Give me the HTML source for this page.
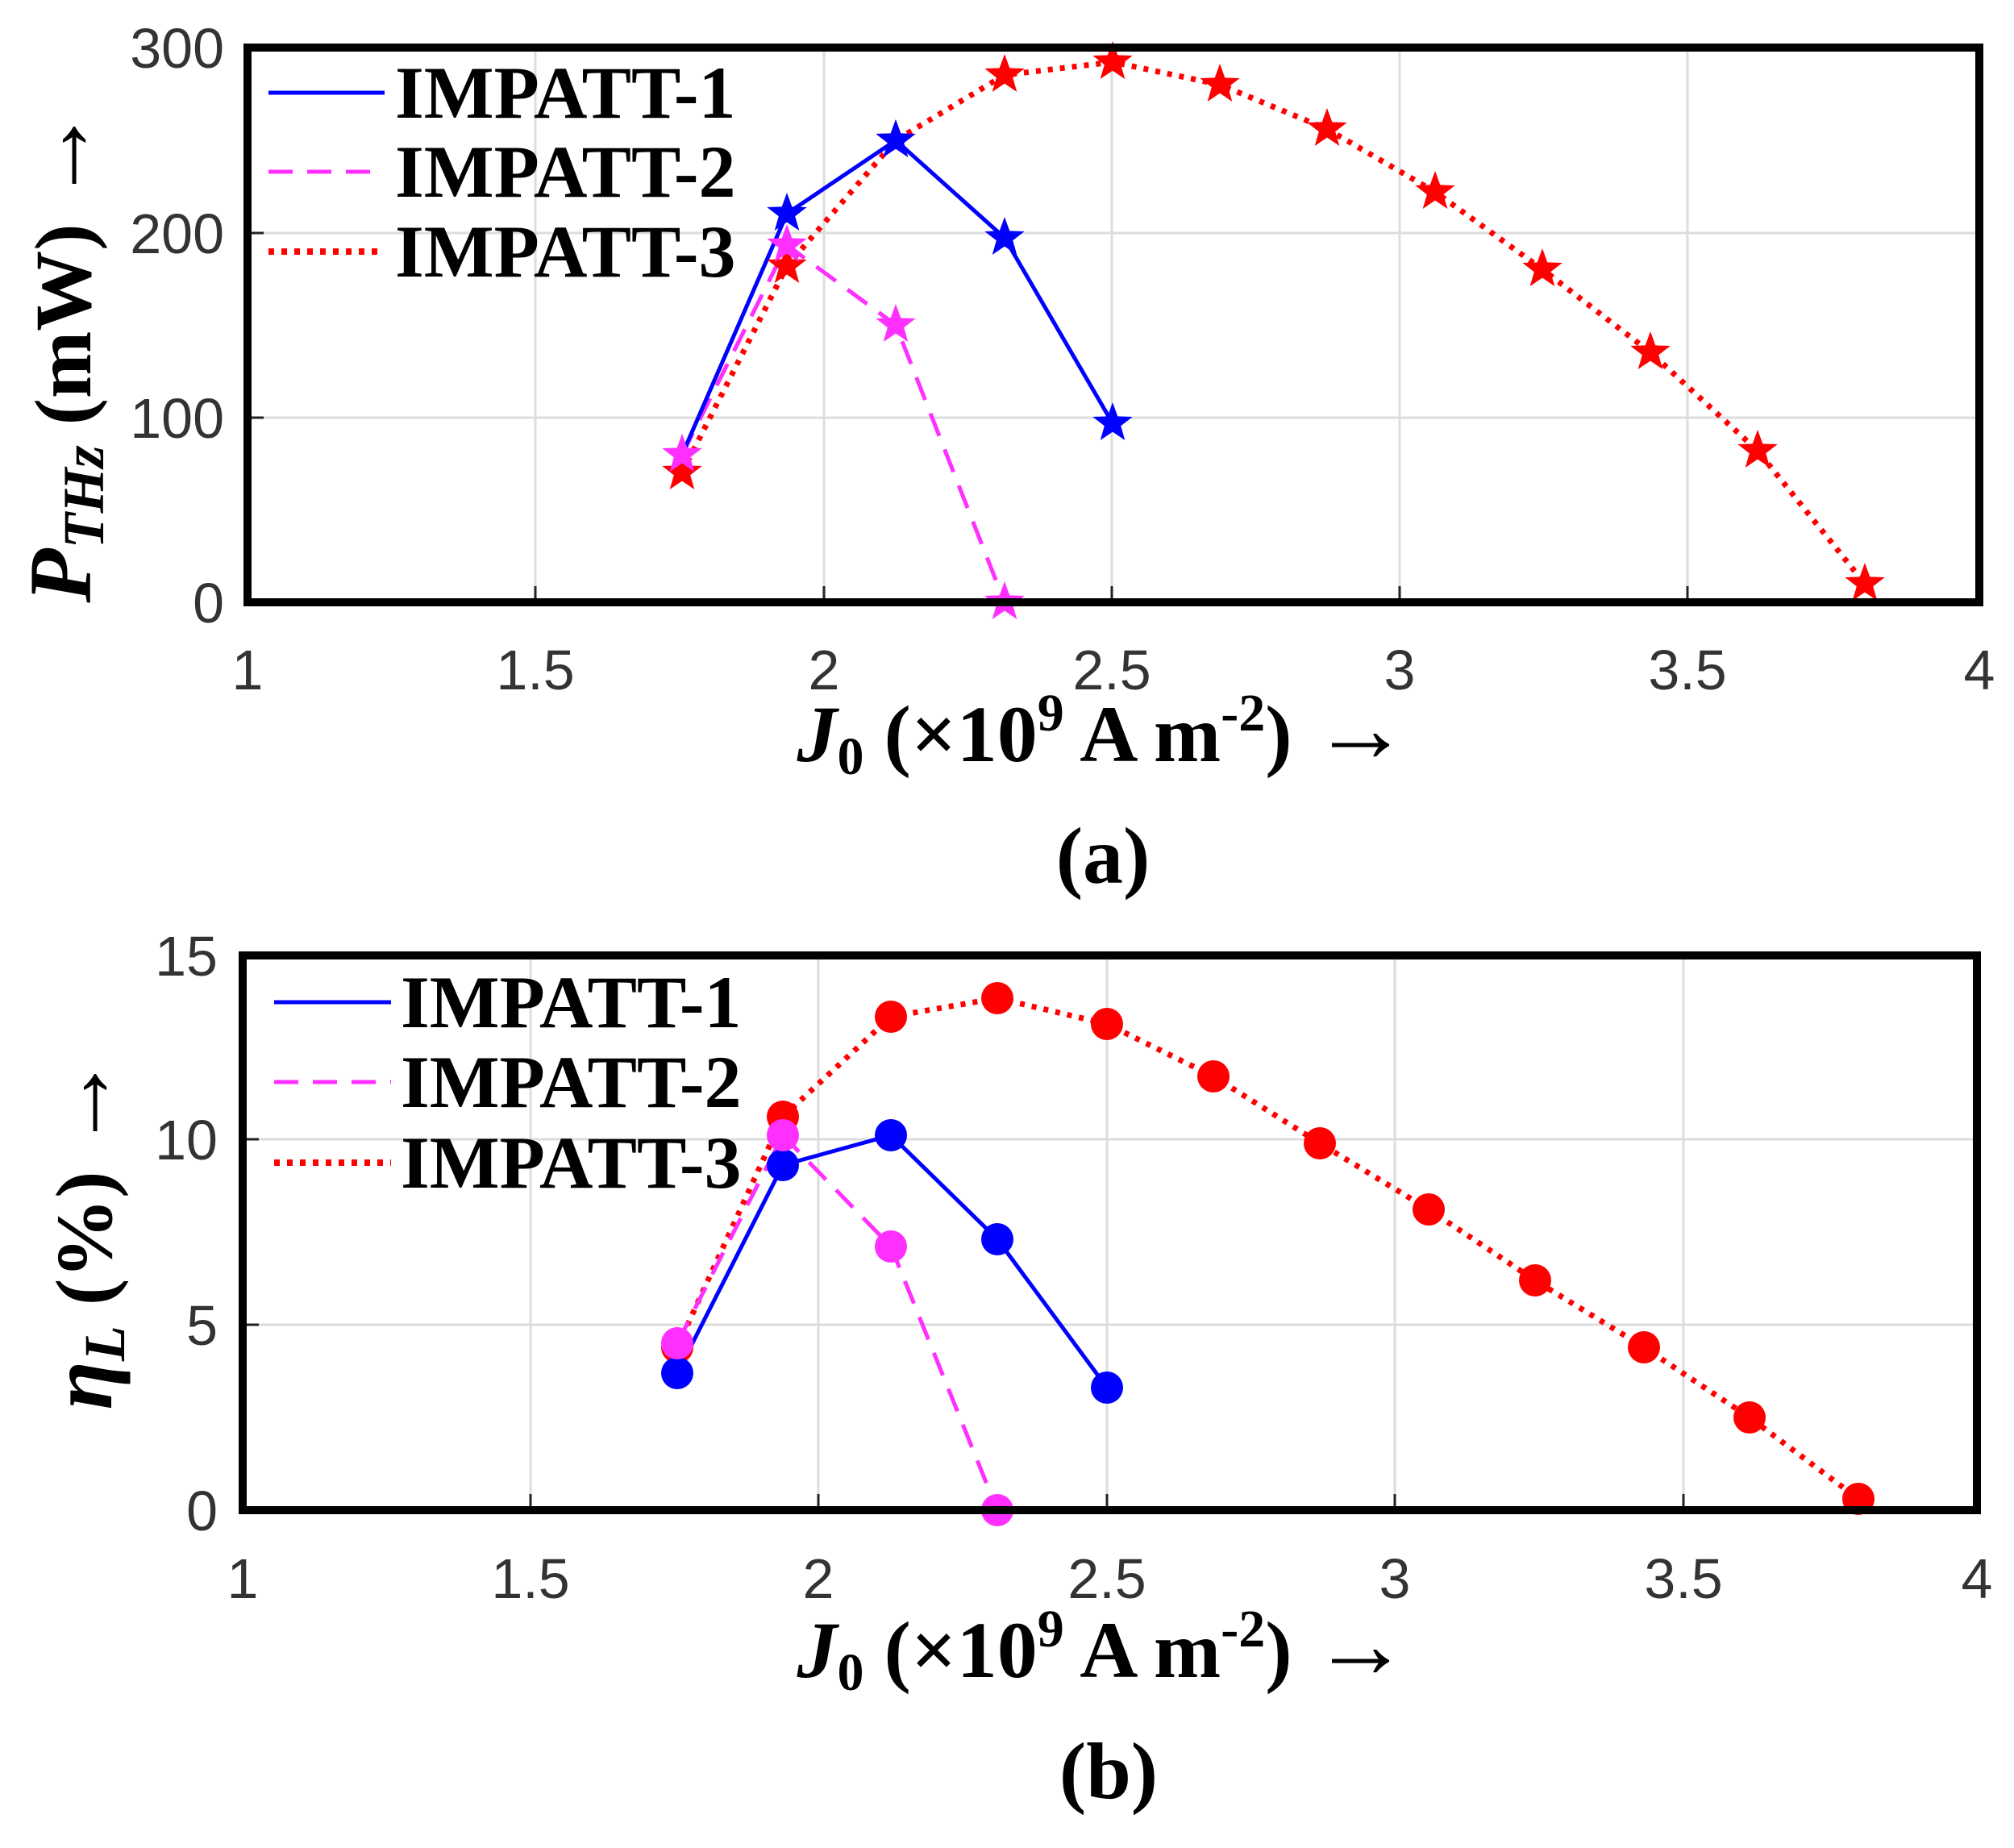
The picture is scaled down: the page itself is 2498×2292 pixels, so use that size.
<!DOCTYPE html>
<html><head><meta charset="utf-8"><style>
html,body{margin:0;padding:0;background:#fff;}
svg{display:block;}
.tk{font-family:"Liberation Sans",sans-serif;font-size:70px;fill:#333;}
.lg{font-family:"Liberation Serif",serif;font-weight:bold;font-size:92px;fill:#000;}
.al{font-family:"Liberation Serif",serif;font-weight:bold;font-size:100px;fill:#000;}
</style></head><body>
<svg width="2498" height="2292" viewBox="0 0 2498 2292" xmlns="http://www.w3.org/2000/svg">
<defs>
<path id="st" d="M0,-26 L6.3,-8.6 24.7,-8 10.2,3.3 15.3,21 0,10.6 -15.3,21 -10.2,3.3 -24.7,-8 -6.3,-8.6Z"/>
</defs>
<rect width="2498" height="2292" fill="#fff"/>

<!-- ===== TOP PLOT ===== -->
<g stroke="#ddd" stroke-width="3">
<line x1="664" y1="59" x2="664" y2="747"/><line x1="1022" y1="59" x2="1022" y2="747"/>
<line x1="1379" y1="59" x2="1379" y2="747"/><line x1="1736" y1="59" x2="1736" y2="747"/>
<line x1="2093" y1="59" x2="2093" y2="747"/>
<line x1="307" y1="289" x2="2455" y2="289"/><line x1="307" y1="518" x2="2455" y2="518"/>
</g>
<g stroke="#222" stroke-width="3">
<line x1="664" y1="747" x2="664" y2="727"/><line x1="1022" y1="747" x2="1022" y2="727"/>
<line x1="1379" y1="747" x2="1379" y2="727"/><line x1="1736" y1="747" x2="1736" y2="727"/>
<line x1="2093" y1="747" x2="2093" y2="727"/>
<line x1="307" y1="289" x2="327" y2="289"/><line x1="307" y1="518" x2="327" y2="518"/>
</g>
<polyline fill="none" stroke="#f00" stroke-width="7" stroke-dasharray="6,9" points="846,586 976,330 1111,174 1246,93 1380,77 1513,105 1646,160 1780,238 1913,334 2047,437 2180,559 2313,724"/>
<polyline fill="none" stroke="#ff2fff" stroke-width="5" stroke-dasharray="30,18" points="846,564 976,304 1111,403 1246,747"/>
<polyline fill="none" stroke="#00f" stroke-width="5" points="846,564 976,265 1111,174 1246,295 1380,525"/>
<g fill="#f00"><use href="#st" x="846" y="586"/><use href="#st" x="976" y="330"/><use href="#st" x="1111" y="174"/><use href="#st" x="1246" y="93"/><use href="#st" x="1380" y="77"/><use href="#st" x="1513" y="105"/><use href="#st" x="1646" y="160"/><use href="#st" x="1780" y="238"/><use href="#st" x="1913" y="334"/><use href="#st" x="2047" y="437"/><use href="#st" x="2180" y="559"/><use href="#st" x="2313" y="724"/></g>
<g fill="#00f"><use href="#st" x="976" y="265"/><use href="#st" x="1111" y="174"/><use href="#st" x="1246" y="295"/><use href="#st" x="1380" y="525"/></g>
<g fill="#ff2fff"><use href="#st" x="846" y="564"/><use href="#st" x="976" y="304"/><use href="#st" x="1111" y="403"/><use href="#st" x="1246" y="747"/></g>
<rect x="307" y="59" width="2148" height="688" fill="none" stroke="#000" stroke-width="10"/>
<line x1="333" y1="115" x2="477" y2="115" stroke="#00f" stroke-width="5"/>
<line x1="333" y1="213" x2="477" y2="213" stroke="#ff2fff" stroke-width="5" stroke-dasharray="30,18"/>
<line x1="333" y1="312" x2="477" y2="312" stroke="#f00" stroke-width="8" stroke-dasharray="7,9"/>
<text class="lg" x="490" y="146">IMPATT-1</text>
<text class="lg" x="490" y="244">IMPATT-2</text>
<text class="lg" x="490" y="343">IMPATT-3</text>
<g class="tk" text-anchor="end">
<text x="278" y="84">300</text><text x="278" y="314">200</text><text x="278" y="543">100</text><text x="278" y="772">0</text>
</g>
<g class="tk" text-anchor="middle">
<text x="307" y="855">1</text><text x="664" y="855">1.5</text><text x="1022" y="855">2</text><text x="1379" y="855">2.5</text><text x="1736" y="855">3</text><text x="2093" y="855">3.5</text><text x="2455" y="855">4</text>
</g>
<text class="al" x="1368" y="944" text-anchor="middle"><tspan font-style="italic">J</tspan><tspan font-size="66" dy="16">0</tspan><tspan dy="-16"> (×10</tspan><tspan font-size="66" dy="-38">9</tspan><tspan dy="38"> A m</tspan><tspan font-size="66" dy="-38">-2</tspan><tspan dy="38">) </tspan><tspan font-size="120">→</tspan></text>
<text class="al" x="1368" y="1095" text-anchor="middle" font-size="140">(a)</text>
<text class="al" transform="translate(112,440) rotate(-90)" text-anchor="middle"><tspan font-style="italic" font-size="110">P</tspan><tspan font-style="italic" font-size="72" dy="16">THz</tspan><tspan dy="-16"> (mW) </tspan><tspan font-size="120">→</tspan></text>

<!-- ===== BOTTOM PLOT ===== -->
<g stroke="#ddd" stroke-width="3">
<line x1="658" y1="1185" x2="658" y2="1873"/><line x1="1015" y1="1185" x2="1015" y2="1873"/>
<line x1="1373" y1="1185" x2="1373" y2="1873"/><line x1="1730" y1="1185" x2="1730" y2="1873"/>
<line x1="2088" y1="1185" x2="2088" y2="1873"/>
<line x1="301" y1="1413" x2="2452" y2="1413"/><line x1="301" y1="1643" x2="2452" y2="1643"/>
</g>
<g stroke="#222" stroke-width="3">
<line x1="658" y1="1873" x2="658" y2="1853"/><line x1="1015" y1="1873" x2="1015" y2="1853"/>
<line x1="1373" y1="1873" x2="1373" y2="1853"/><line x1="1730" y1="1873" x2="1730" y2="1853"/>
<line x1="2088" y1="1873" x2="2088" y2="1853"/>
<line x1="301" y1="1413" x2="321" y2="1413"/><line x1="301" y1="1643" x2="321" y2="1643"/>
</g>
<polyline fill="none" stroke="#f00" stroke-width="7" stroke-dasharray="6,9" points="840,1671 971,1385 1105,1261 1237,1238 1373,1270 1505,1335 1637,1418 1772,1500 1904,1588 2039,1671 2170,1758 2305,1859"/>
<polyline fill="none" stroke="#ff2fff" stroke-width="5" stroke-dasharray="30,18" points="840,1666 971,1408 1105,1546 1237,1873"/>
<polyline fill="none" stroke="#00f" stroke-width="5" points="840,1703 971,1445 1105,1408 1237,1537 1373,1721"/>
<g fill="#f00"><circle cx="840" cy="1671" r="20"/><circle cx="971" cy="1385" r="20"/><circle cx="1105" cy="1261" r="20"/><circle cx="1237" cy="1238" r="20"/><circle cx="1373" cy="1270" r="20"/><circle cx="1505" cy="1335" r="20"/><circle cx="1637" cy="1418" r="20"/><circle cx="1772" cy="1500" r="20"/><circle cx="1904" cy="1588" r="20"/><circle cx="2039" cy="1671" r="20"/><circle cx="2170" cy="1758" r="20"/><circle cx="2305" cy="1859" r="20"/></g>
<g fill="#00f"><circle cx="840" cy="1703" r="20"/><circle cx="971" cy="1445" r="20"/><circle cx="1105" cy="1408" r="20"/><circle cx="1237" cy="1537" r="20"/><circle cx="1373" cy="1721" r="20"/></g>
<g fill="#ff2fff"><circle cx="840" cy="1666" r="20"/><circle cx="971" cy="1408" r="20"/><circle cx="1105" cy="1546" r="20"/><circle cx="1237" cy="1873" r="20"/></g>
<rect x="301" y="1185" width="2151" height="688" fill="none" stroke="#000" stroke-width="10"/>
<line x1="340" y1="1243" x2="485" y2="1243" stroke="#00f" stroke-width="5"/>
<line x1="340" y1="1342" x2="485" y2="1342" stroke="#ff2fff" stroke-width="5" stroke-dasharray="30,18"/>
<line x1="340" y1="1442" x2="485" y2="1442" stroke="#f00" stroke-width="8" stroke-dasharray="7,9"/>
<text class="lg" x="497" y="1274">IMPATT-1</text>
<text class="lg" x="497" y="1373">IMPATT-2</text>
<text class="lg" x="497" y="1473">IMPATT-3</text>
<g class="tk" text-anchor="end">
<text x="270" y="1210">15</text><text x="270" y="1438">10</text><text x="270" y="1668">5</text><text x="270" y="1898">0</text>
</g>
<g class="tk" text-anchor="middle">
<text x="301" y="1982">1</text><text x="658" y="1982">1.5</text><text x="1015" y="1982">2</text><text x="1373" y="1982">2.5</text><text x="1730" y="1982">3</text><text x="2088" y="1982">3.5</text><text x="2452" y="1982">4</text>
</g>
<text class="al" x="1368" y="2080" text-anchor="middle"><tspan font-style="italic">J</tspan><tspan font-size="66" dy="16">0</tspan><tspan dy="-16"> (×10</tspan><tspan font-size="66" dy="-38">9</tspan><tspan dy="38"> A m</tspan><tspan font-size="66" dy="-38">-2</tspan><tspan dy="38">) </tspan><tspan font-size="120">→</tspan></text>
<text class="al" x="1375" y="2230" text-anchor="middle" font-size="140">(b)</text>
<text class="al" transform="translate(138,1528) rotate(-90)" text-anchor="middle"><tspan font-style="italic" font-size="110">η</tspan><tspan font-style="italic" font-size="72" dy="16">L</tspan><tspan dy="-16"> (%) </tspan><tspan font-size="120">→</tspan></text>
</svg>
</body></html>
